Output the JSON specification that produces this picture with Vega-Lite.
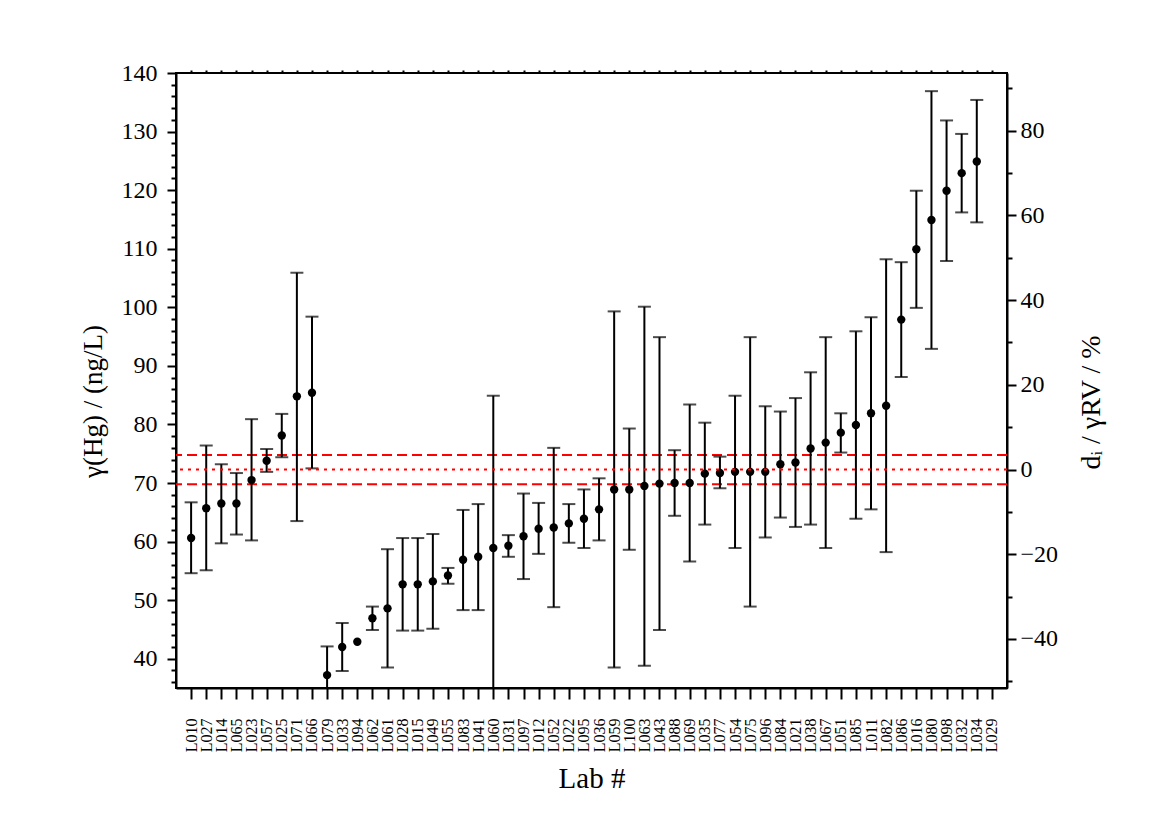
{
  "$schema": "https://vega.github.io/schema/vega-lite/v6.json",
  "width": 831,
  "height": 615,
  "autosize": {"type": "none"},
  "padding": {"left": 176, "top": 73, "right": 160, "bottom": 139},
  "background": "white",
  "config": {
    "font": "Liberation Serif",
    "view": {"stroke": "black", "strokeWidth": 2},
    "axis": {
      "grid": false,
      "domainColor": "black",
      "domainWidth": 2,
      "tickColor": "black",
      "tickWidth": 2,
      "labelColor": "black",
      "titleColor": "black",
      "labelFont": "Liberation Serif",
      "titleFont": "Liberation Serif",
      "titleFontWeight": "normal"
    }
  },
  "datasets": {
    "labs": [
      {"lab": "L010", "value": 60.6, "lo": 54.6, "hi": 66.7},
      {"lab": "L027", "value": 65.7, "lo": 55.1, "hi": 76.4},
      {"lab": "L014", "value": 66.5, "lo": 59.7, "hi": 73.2},
      {"lab": "L065", "value": 66.5, "lo": 61.2, "hi": 71.7},
      {"lab": "L023", "value": 70.5, "lo": 60.2, "hi": 80.9},
      {"lab": "L057", "value": 73.8, "lo": 71.9, "hi": 75.8},
      {"lab": "L025", "value": 78.1, "lo": 74.4, "hi": 81.8},
      {"lab": "L071", "value": 84.8, "lo": 63.5, "hi": 105.9},
      {"lab": "L066", "value": 85.4, "lo": 72.5, "hi": 98.4},
      {"lab": "L079", "value": 37.2, "lo": 32.2, "hi": 42.1},
      {"lab": "L033", "value": 42.0, "lo": 37.9, "hi": 46.1},
      {"lab": "L094", "value": 42.9, "lo": null, "hi": null},
      {"lab": "L062", "value": 46.9, "lo": 44.9, "hi": 48.9},
      {"lab": "L061", "value": 48.6, "lo": 38.5, "hi": 58.7},
      {"lab": "L028", "value": 52.7, "lo": 44.8, "hi": 60.6},
      {"lab": "L015", "value": 52.7, "lo": 44.8, "hi": 60.6},
      {"lab": "L049", "value": 53.2, "lo": 45.1, "hi": 61.3},
      {"lab": "L055", "value": 54.2, "lo": 52.8, "hi": 55.5},
      {"lab": "L083", "value": 56.9, "lo": 48.3, "hi": 65.4},
      {"lab": "L041", "value": 57.4, "lo": 48.3, "hi": 66.4},
      {"lab": "L060", "value": 58.9, "lo": 32.8, "hi": 84.9},
      {"lab": "L031", "value": 59.3, "lo": 57.4, "hi": 61.1},
      {"lab": "L097", "value": 60.9, "lo": 53.6, "hi": 68.2},
      {"lab": "L012", "value": 62.2, "lo": 57.9, "hi": 66.6},
      {"lab": "L052", "value": 62.4, "lo": 48.8, "hi": 76.0},
      {"lab": "L022", "value": 63.1, "lo": 59.8, "hi": 66.4},
      {"lab": "L095", "value": 63.9, "lo": 58.9, "hi": 68.9},
      {"lab": "L036", "value": 65.5, "lo": 60.2, "hi": 70.8},
      {"lab": "L059", "value": 68.9, "lo": 38.5, "hi": 99.3},
      {"lab": "L100", "value": 68.9, "lo": 58.6, "hi": 79.3},
      {"lab": "L063", "value": 69.5, "lo": 38.8, "hi": 100.1},
      {"lab": "L043", "value": 69.9, "lo": 44.9, "hi": 94.9},
      {"lab": "L088", "value": 70.0, "lo": 64.4, "hi": 75.6},
      {"lab": "L069", "value": 70.0, "lo": 56.6, "hi": 83.4},
      {"lab": "L035", "value": 71.6, "lo": 62.9, "hi": 80.3},
      {"lab": "L077", "value": 71.7, "lo": 69.1, "hi": 74.5},
      {"lab": "L054", "value": 71.9, "lo": 58.9, "hi": 84.9},
      {"lab": "L075", "value": 71.9, "lo": 48.9, "hi": 94.9},
      {"lab": "L096", "value": 71.9, "lo": 60.7, "hi": 83.1},
      {"lab": "L084", "value": 73.2, "lo": 64.1, "hi": 82.2},
      {"lab": "L021", "value": 73.5, "lo": 62.5, "hi": 84.5},
      {"lab": "L038", "value": 75.9, "lo": 62.9, "hi": 88.9},
      {"lab": "L067", "value": 76.9, "lo": 58.9, "hi": 94.9},
      {"lab": "L051", "value": 78.6, "lo": 75.2, "hi": 81.9},
      {"lab": "L085", "value": 79.9, "lo": 63.9, "hi": 95.9},
      {"lab": "L011", "value": 81.9, "lo": 65.5, "hi": 98.3},
      {"lab": "L082", "value": 83.2, "lo": 58.2, "hi": 108.2},
      {"lab": "L086", "value": 97.9, "lo": 88.1, "hi": 107.7},
      {"lab": "L016", "value": 109.9, "lo": 99.9, "hi": 119.9},
      {"lab": "L080", "value": 114.9, "lo": 92.9, "hi": 136.9},
      {"lab": "L098", "value": 119.9, "lo": 107.9, "hi": 131.9},
      {"lab": "L032", "value": 122.9, "lo": 116.2, "hi": 129.6},
      {"lab": "L034", "value": 124.9, "lo": 114.5, "hi": 135.4},
      {"lab": "L029", "value": null, "lo": null, "hi": null}
    ],
    "limits": [{"lim": 74.8}, {"lim": 69.8}],
    "reference": [{"d": 0}]
  },
  "layer": [
    {
      "layer": [
        {
          "data": {"name": "limits"},
          "mark": {"type": "rule", "color": "#ff0000", "strokeWidth": 2, "strokeDash": [10, 5]},
          "encoding": {
            "y": {
              "field": "lim",
              "type": "quantitative",
              "scale": {"domain": [35, 140], "nice": false, "zero": false},
              "axis": {
                "orient": "left",
                "values": [36, 38, 40, 42, 44, 46, 48, 50, 52, 54, 56, 58, 60, 62, 64, 66, 68, 70, 72, 74, 76, 78, 80, 82, 84, 86, 88, 90, 92, 94, 96, 98, 100, 102, 104, 106, 108, 110, 112, 114, 116, 118, 120, 122, 124, 126, 128, 130, 132, 134, 136, 138, 140],
                "labelExpr": "datum.value % 10 === 0 ? datum.label : ''",
                "tickSize": {"condition": {"test": "datum.value % 10 === 0", "value": 9}, "value": 5},
                "labelFontSize": 24,
                "labelPadding": 10,
                "labelOverlap": false,
                "labelFlush": false,
                "title": "γ(Hg) / (ng/L)",
                "titleFontSize": 27,
                "titlePadding": 14,
                "titleY": 328
              }
            }
          }
        },
        {
          "data": {"name": "labs"},
          "transform": [{"filter": "datum.lo != null"}],
          "layer": [
            {
              "mark": {"type": "rule", "color": "black", "strokeWidth": 2, "clip": true},
              "encoding": {
                "x": {
                  "field": "lab",
                  "type": "ordinal",
                  "sort": null,
                  "scale": {"type": "point", "padding": 1, "domain": ["L010", "L027", "L014", "L065", "L023", "L057", "L025", "L071", "L066", "L079", "L033", "L094", "L062", "L061", "L028", "L015", "L049", "L055", "L083", "L041", "L060", "L031", "L097", "L012", "L052", "L022", "L095", "L036", "L059", "L100", "L063", "L043", "L088", "L069", "L035", "L077", "L054", "L075", "L096", "L084", "L021", "L038", "L067", "L051", "L085", "L011", "L082", "L086", "L016", "L080", "L098", "L032", "L034", "L029"]},
                  "axis": {
                    "orient": "bottom",
                    "labelAngle": 270,
                    "labelFontSize": 16,
                    "labelPadding": 19,
                    "tickSize": 11,
                    "title": "Lab #",
                    "titleFontSize": 29,
                    "titlePadding": 13
                  }
                },
                "y": {"field": "lo", "type": "quantitative", "scale": {"domain": [35, 140], "nice": false, "zero": false}, "axis": null},
                "y2": {"field": "hi"}
              }
            },
            {
              "mark": {"type": "tick", "color": "black", "size": 13, "thickness": 2, "clip": true},
              "encoding": {
                "x": {
                  "field": "lab",
                  "type": "ordinal",
                  "sort": null,
                  "axis": {"orient": "top", "labels": false, "domain": false, "tickSize": 3, "title": null}
                },
                "y": {"field": "lo", "type": "quantitative", "scale": {"domain": [35, 140], "nice": false, "zero": false}, "axis": null}
              }
            },
            {
              "mark": {"type": "tick", "color": "black", "size": 13, "thickness": 2, "clip": true},
              "encoding": {
                "x": {"field": "lab", "type": "ordinal", "sort": null, "axis": null},
                "y": {"field": "hi", "type": "quantitative", "scale": {"domain": [35, 140], "nice": false, "zero": false}, "axis": null}
              }
            }
          ]
        },
        {
          "data": {"name": "labs"},
          "mark": {"type": "circle", "color": "black", "opacity": 1, "size": 70},
          "encoding": {
            "x": {"field": "lab", "type": "ordinal", "sort": null, "axis": null},
            "y": {"field": "value", "type": "quantitative", "scale": {"domain": [35, 140], "nice": false, "zero": false}, "axis": null}
          }
        }
      ],
      "resolve": {"axis": {"y": "independent"}}
    },
    {
      "data": {"name": "reference"},
      "mark": {"type": "rule", "color": "#ff0000", "strokeWidth": 2, "strokeDash": [3, 5]},
      "encoding": {
        "y": {
          "field": "d",
          "type": "quantitative",
          "scale": {"domain": [-51.59, 93.64], "nice": false, "zero": false},
          "axis": {
            "orient": "right",
            "values": [-50, -40, -30, -20, -10, 0, 10, 20, 30, 40, 50, 60, 70, 80, 90],
            "labelExpr": "datum.value % 20 === 0 ? datum.label : ''",
            "tickSize": {"condition": {"test": "datum.value % 20 === 0", "value": 9}, "value": 5},
            "labelFontSize": 24,
            "labelPadding": 4,
            "labelOverlap": false,
            "labelFlush": false,
            "title": "dᵢ / γRV / %",
            "titleFontSize": 28,
            "titleAngle": 270,
            "titlePadding": 48,
            "titleY": 329
          }
        }
      }
    }
  ],
  "resolve": {"scale": {"y": "independent"}}
}
